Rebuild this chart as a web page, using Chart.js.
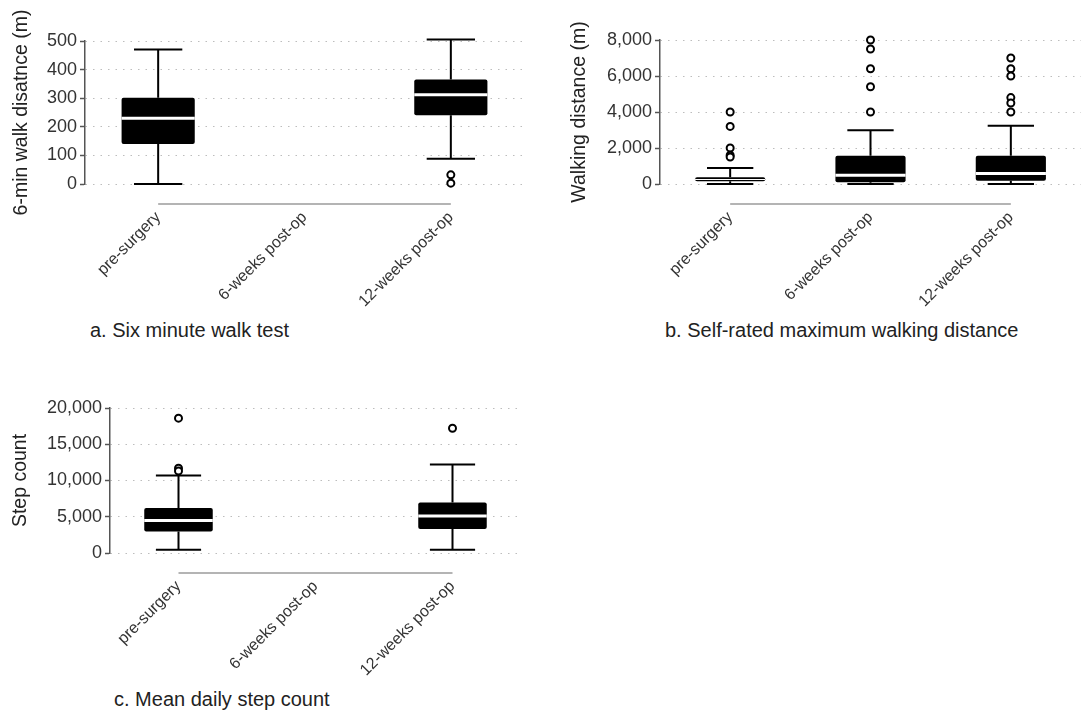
<!DOCTYPE html>
<html>
<head>
<meta charset="utf-8">
<title>Walking outcomes</title>
<script src="https://cdn.jsdelivr.net/npm/chart.js@4.4.1/dist/chart.umd.min.js"></script>
<style>
  html, body { margin: 0; padding: 0; background: #fff; }
  body { position: relative; width: 1087px; height: 712px; overflow: hidden;
         font-family: "Liberation Sans", Arial, sans-serif; }
  canvas { position: absolute; }
  .caption { position: absolute; font-size: 20px; color: #222; white-space: nowrap; line-height: 23px; }
</style>
</head>
<body>
<canvas id="walkTest" width="540" height="316" style="left:0;top:0"></canvas>
<canvas id="selfRated" width="547" height="316" style="left:540px;top:0"></canvas>
<canvas id="stepCount" width="540" height="325" style="left:0;top:360px"></canvas>

<div class="caption" style="left:90px;top:319px">a. Six minute walk test</div>
<div class="caption" style="left:665px;top:319px">b. Self-rated maximum walking distance</div>
<div class="caption" style="left:114px;top:688px">c. Mean daily step count</div>

<script>
var categories = ['pre-surgery', '6-weeks post-op', '12-weeks post-op'];

// a. six minute walk test (m) - no 6 week measurement
var walkLow      = [0,   null, 88];
var walkQ1       = [140, null, 240];
var walkMedian   = [230, null, 312];
var walkQ3       = [302, null, 365];
var walkHigh     = [470, null, 505];
var walkOutliers = [[], [], [32, 3]];
var walkTicks    = [0, 100, 200, 300, 400, 500];

// b. self-rated maximum walking distance (m)
var selfLow      = [0,   0,    0];
var selfQ1       = [148, 92,   185];
var selfMedian   = [250, 480,  590];
var selfQ3       = [370, 1570, 1570];
var selfHigh     = [890, 2980, 3230];
var selfOutliers = [[4000, 3200, 2000, 1600, 1500],
                    [8000, 7500, 6400, 5400, 4000],
                    [7000, 6400, 6000, 4800, 4500, 4000]];
var selfTicks    = [0, 2000, 4000, 6000, 8000];

// c. mean daily step count - no 6 week measurement
var stepLow      = [450,   null, 450];
var stepQ1       = [2950,  null, 3300];
var stepMedian   = [4500,  null, 5100];
var stepQ3       = [6200,  null, 6950];
var stepHigh     = [10700, null, 12200];
var stepOutliers = [[18600, 11700, 11300], [], [17200]];
var stepTicks    = [0, 5000, 10000, 15000, 20000];

Chart.defaults.font.family = "'Liberation Sans', Arial, sans-serif";
Chart.defaults.color = '#333';
Chart.defaults.animation = false;

// whiskers, caps, median and the grey baseline under the categories
var boxPlot = {
  id: 'boxPlot',
  beforeDatasetsDraw: function (chart) {
    var ds = chart.data.datasets[0];
    var x = chart.scales.x, y = chart.scales.y, ctx = chart.ctx;
    var band = Math.abs(x.getPixelForValue(1) - x.getPixelForValue(0));
    var half = band * 0.165;
    ctx.save();
    ctx.strokeStyle = '#000';
    ctx.lineWidth = 2;
    ds.data.forEach(function (box, i) {
      if (!box) return;
      var cx = x.getPixelForValue(i);
      var yLo = y.getPixelForValue(ds.whiskerLow[i]);
      var yHi = y.getPixelForValue(ds.whiskerHigh[i]);
      ctx.beginPath();
      ctx.moveTo(cx, y.getPixelForValue(box[1])); ctx.lineTo(cx, yHi);
      ctx.moveTo(cx, y.getPixelForValue(box[0])); ctx.lineTo(cx, yLo);
      ctx.moveTo(cx - half, yHi); ctx.lineTo(cx + half, yHi);
      ctx.moveTo(cx - half, yLo); ctx.lineTo(cx + half, yLo);
      ctx.stroke();
    });
    var area = chart.chartArea;
    ctx.strokeStyle = '#b4b4b4';
    ctx.lineWidth = 2;
    ctx.beginPath();
    ctx.moveTo(x.getPixelForValue(0), area.bottom + 20);
    ctx.lineTo(x.getPixelForValue(chart.data.labels.length - 1), area.bottom + 20);
    ctx.stroke();
    ctx.restore();
  },
  afterDatasetsDraw: function (chart) {
    var ds = chart.data.datasets[0];
    var meta = chart.getDatasetMeta(0);
    var y = chart.scales.y, ctx = chart.ctx;
    ctx.save();
    ctx.strokeStyle = '#fff';
    meta.data.forEach(function (bar, i) {
      if (ds.median[i] == null) return;
      var my = y.getPixelForValue(ds.median[i]);
      // thin boxes get a thinner median stroke so the box stays visible
      ctx.lineWidth = Math.min(3, Math.abs(bar.height) * 0.3);
      ctx.beginPath();
      ctx.moveTo(bar.x - bar.width / 2, my);
      ctx.lineTo(bar.x + bar.width / 2, my);
      ctx.stroke();
    });
    ctx.restore();
  }
};

function makeBoxChart(id, s) {
  var boxes = s.q1.map(function (q, i) { return q == null ? null : [q, s.q3[i]]; });
  var points = [];
  s.outliers.forEach(function (list, i) {
    list.forEach(function (v) { points.push({ x: categories[i], y: v }); });
  });
  return new Chart(document.getElementById(id), {
    type: 'bar',
    data: {
      labels: categories,
      datasets: [{
        type: 'bar',
        data: boxes,
        whiskerLow: s.low,
        whiskerHigh: s.high,
        median: s.median,
        backgroundColor: '#000',
        borderWidth: 0,
        borderRadius: 2,
        borderSkipped: false,
        barPercentage: 0.5,
        categoryPercentage: 1.0
      }, {
        type: 'line',
        data: points,
        showLine: false,
        clip: false,
        pointRadius: 3.5,
        pointBorderWidth: 2,
        pointBorderColor: '#000',
        pointBackgroundColor: '#fff'
      }]
    },
    options: {
      responsive: false,
      events: [],
      layout: { padding: { left: 0, top: s.top, right: s.right, bottom: 0 } },
      plugins: { legend: { display: false }, tooltip: { enabled: false } },
      scales: {
        x: {
          offset: true,
          grid: { display: false },
          border: { display: false },
          ticks: { color: '#333', font: { size: 16 }, minRotation: 45, maxRotation: 45,
                   autoSkip: false, padding: 16 },
          afterFit: function (sc) { sc.height = s.xHeight; }
        },
        y: {
          min: s.ticks[0],
          max: s.ticks[s.ticks.length - 1],
          afterBuildTicks: function (sc) {
            sc.ticks = s.ticks.map(function (v) { return { value: v }; });
          },
          afterFit: function (sc) { sc.width = s.yWidth; },
          grid: { color: '#bdbdbd', lineWidth: 1, tickColor: '#555', tickLength: 5, tickWidth: 1.5 },
          border: { display: true, color: '#555', width: 1.5, dash: [1.5, 6] },
          ticks: { color: '#333', font: { size: 18 }, padding: 3,
                   callback: function (v) { return Number(v).toLocaleString('en-US'); } },
          title: { display: true, text: s.title, color: '#222', font: { size: 19.5 },
                   padding: { top: s.titlePad, bottom: 0 } }
        }
      }
    },
    plugins: [boxPlot]
  });
}

makeBoxChart('walkTest', {
  low: walkLow, q1: walkQ1, median: walkMedian, q3: walkQ3, high: walkHigh,
  outliers: walkOutliers, ticks: walkTicks, title: '6-min walk disatnce (m)',
  top: 41, right: 16, yWidth: 85, xHeight: 132, titlePad: 10
});

makeBoxChart('selfRated', {
  low: selfLow, q1: selfQ1, median: selfMedian, q3: selfQ3, high: selfHigh,
  outliers: selfOutliers, ticks: selfTicks, title: 'Walking distance (m)',
  top: 40, right: 4, yWidth: 120, xHeight: 132, titlePad: 28
});

makeBoxChart('stepCount', {
  low: stepLow, q1: stepQ1, median: stepMedian, q3: stepQ3, high: stepHigh,
  outliers: stepOutliers, ticks: stepTicks, title: 'Step count',
  top: 48, right: 19, yWidth: 110, xHeight: 132, titlePad: 9
});
</script>
</body>
</html>
